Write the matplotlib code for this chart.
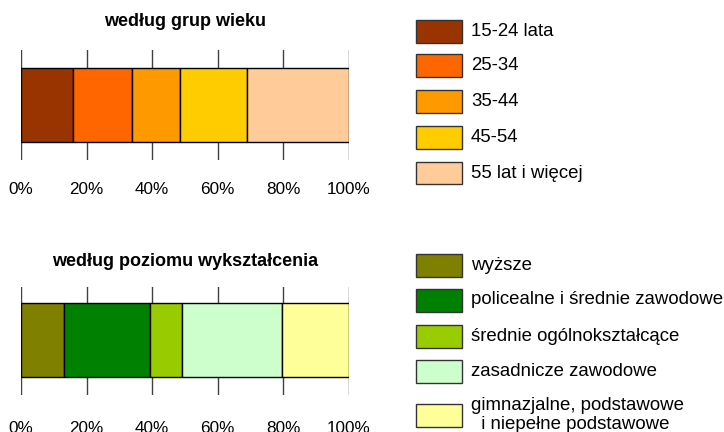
import matplotlib
matplotlib.use("Agg")
import matplotlib.pyplot as plt
from matplotlib.patches import Rectangle

plt.rcParams["font.family"] = ["Liberation Sans", "DejaVu Sans"]

# ── data ──────────────────────────────────────────────────────────────────────
age_labels = ["15-24 lata", "25-34", "35-44", "45-54", "55 lat i więcej"]
age_values = [15.9, 17.9, 14.7, 20.5, 31.0]
age_colors = ["#993300", "#FF6600", "#FF9900", "#FFCC00", "#FFCC99"]

edu_labels = ["wyższe", "policealne i średnie zawodowe", "średnie ogólnokształcące",
              "zasadnicze zawodowe", "gimnazjalne, podstawowe\n  i niepełne podstawowe"]
edu_values = [13.0, 26.2, 9.8, 30.5, 20.5]
edu_colors = ["#808000", "#008000", "#99CC00", "#CCFFCC", "#FFFF99"]

xticks = [0, 20, 40, 60, 80, 100]
xtick_labels = ["0%", "20%", "40%", "60%", "80%", "100%"]

W, H = 724, 432
fig = plt.figure(figsize=(W / 100, H / 100), dpi=100)


def px(x, y):
    return x / W, 1 - y / H


def stacked_bar(top, bottom, bar_top, bar_bottom, values, colors, title, title_y, pad):
    x0, y0 = px(21, bottom)
    ax = fig.add_axes([x0, y0, 328 / W, (bottom - top) / H])
    span = bottom - top
    h = (bar_bottom - bar_top) / span
    yc = 1 - ((bar_top + bar_bottom) / 2 - top) / span
    left = 0
    for v, c in zip(values, colors):
        ax.barh(yc, v, left=left, height=h, color=c, edgecolor="black",
                linewidth=1, zorder=2)
        left += v
    ax.set_xlim(0, 100)
    ax.set_ylim(0, 1)
    for t in xticks:
        ax.axvline(t, color="#404040", lw=1, zorder=1)
    for s in ax.spines.values():
        s.set_visible(False)
    ax.set_yticks([])
    ax.set_xticks(xticks)
    ax.set_xticklabels(xtick_labels, fontsize=12.3)
    ax.tick_params(axis="x", length=0, pad=pad)
    tx, ty = px(185, title_y)
    fig.text(tx, ty, title, fontsize=13, fontweight="bold", ha="center", va="center")
    return ax


def legend_block(rows_y, labels, colors):
    for yc, lab, c in zip(rows_y, labels, colors):
        x, y = px(416, yc + 11.5)
        fig.add_artist(Rectangle((x, y), 46 / W, 23 / H, transform=fig.transFigure,
                                 facecolor=c, edgecolor="#333333", lw=1))
        tx, ty = px(471, yc)
        fig.text(tx, ty, lab, fontsize=13.4, va="center", ha="left",
                 linespacing=1.15)


stacked_bar(50, 160, 68, 142, age_values, age_colors, "według grup wieku", 21.5, 15.5)
stacked_bar(287, 395, 303, 377, edu_values, edu_colors,
            "według poziomu wykształcenia", 262, 18.5)

legend_block([31.5, 65, 101, 137, 173], age_labels, age_colors)
legend_block([265, 300, 336.5, 371.5, 415], edu_labels, edu_colors)

fig.savefig("out.png", dpi=100)
